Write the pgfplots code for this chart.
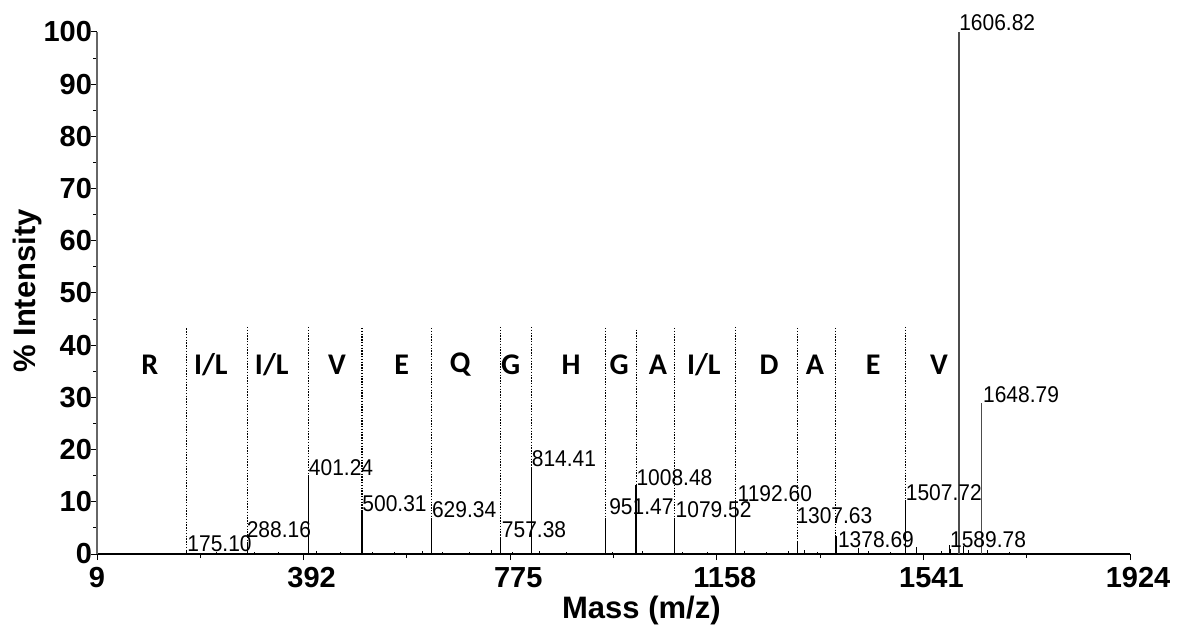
\documentclass[border=0pt]{standalone}
\usepackage{pgfplots}
\pgfplotsset{compat=1.18}
\usepackage{fontspec}
\setmainfont{Liberation Sans}
\newfontfamily\calibri{Carlito}
\newfontfamily\lblfont{Liberation Sans}[FakeStretch=0.92]

\begin{document}
\begin{tikzpicture}
\begin{axis}[
  at={(0,0)}, anchor=south west,
  scale only axis, width=516.5pt, height=261pt,
  xmin=9, xmax=1924, ymin=0, ymax=100,
  clip=false,
  axis x line*=bottom, axis y line*=left,
  x axis line style={-, black, line width=0.6pt},
  y axis line style={-, black!60, line width=0.6pt},
  xtick={392,775,1158,1541,1924},
  extra x ticks={9},
  extra x tick style={xticklabel style={xshift=-4pt}},
  minor xtick={200.5,583.5,966.5,1349.5,1732.5},
  ytick={0,10,...,100},
  minor ytick={5,15,...,95},
  tick align=outside,
  major tick length=3pt, minor tick length=2pt,
  tick style={black, line width=0.5pt},
  /pgf/number format/assume math mode=true,
  /pgf/number format/1000 sep={},
  ticklabel style={font=\bfseries\fontsize{14.5}{16}\selectfont},
  yticklabel style={xshift=4pt},
  xticklabel style={xshift=4pt},
  ylabel={\% Intensity},
  every axis y label/.style={at={(axis description cs:0,0.504)}, xshift=-35pt, rotate=90, anchor=center},
  ylabel style={font=\bfseries\fontsize{15.5}{17}\selectfont},
  xlabel={Mass (m/z)},
  every axis x label/.style={at={(axis description cs:0.527,0)}, yshift=-28pt, anchor=center},
  xlabel style={font=\bfseries\fontsize{15.5}{17}\selectfont},
  unbounded coords=jump,
]
% main spectrum peaks
\addplot[ycomb, black, line width=0.7pt, mark=none] coordinates {
(175.10,0.8) (288.16,2.3) (401.24,15.1) (500.31,8.4) (629.34,6.9)
(757.38,3.3) (814.41,16.7) (951.47,6.5) (1008.48,13.2) (1079.52,6.9)
(1192.60,10.3) (1307.63,2.3) (1378.69,3.5) (1507.72,10.3) (1589.78,1.7)
(1606.82,68) (1648.79,18)
};
\addplot[ycomb, black!70, line width=0.7pt, mark=none] coordinates {
(1606.82,100) (1648.79,29)
};
% small noise peaks
\addplot[ycomb, black, line width=0.45pt, mark=none] coordinates {
(60,0.2) (120,0.2) (230,0.3) (300,0.4) (345,0.3) (415,0.5) (460,0.3) (520,0.4)
(560,0.3) (612,0.5) (650,0.4) (700,0.3) (741,0.7) (780,0.4) (830,0.5) (880,0.3)
(965,0.4) (1020,0.6) (1095,0.4) (1140,0.3) (1210,0.5) (1250,0.3) (1290,0.6)
(1320,0.8) (1345,0.4) (1420,1.2) (1440,0.5) (1480,0.4) (1528,1.3) (1575,0.6)
(1592,0.9) (1615,1.5) (1625,0.8) (1660,0.8) (1700,0.4) (1760,0.2) (1820,0.2)
};
% dotted separators
\addplot[black, line width=0.55pt, dash pattern=on 0.7pt off 0.7pt, mark=none] coordinates {
(175.10,43.2) (175.10,0.8) (175.10,nan)
(288.16,43.5) (288.16,2.3) (288.16,nan)
(401.24,43.5) (401.24,15.1) (401.24,nan)
(500.31,43.3) (500.31,8.4) (500.31,nan)
(629.34,43.3) (629.34,6.9) (629.34,nan)
(757.38,43.5) (757.38,3.3) (757.38,nan)
(814.41,43.5) (814.41,16.7) (814.41,nan)
(951.47,43.3) (951.47,6.5) (951.47,nan)
(1008.48,43.0) (1008.48,13.2) (1008.48,nan)
(1079.52,43.3) (1079.52,6.9) (1079.52,nan)
(1192.60,43.5) (1192.60,10.3) (1192.60,nan)
(1307.63,43.3) (1307.63,2.3) (1307.63,nan)
(1378.69,43.3) (1378.69,3.5) (1378.69,nan)
(1507.72,43.5) (1507.72,10.3)
};
% peak labels
\begin{scope}[every node/.style={font=\lblfont\fontsize{11.4}{12}\selectfont, inner sep=0pt, anchor=base west}]
\node at (axis cs:176,0.4) {175.10};
\node at (axis cs:286,3.1) {288.16};
\node at (axis cs:401.24,15.1) {401.24};
\node at (axis cs:500.31,8.2) {500.31};
\node at (axis cs:629.34,6.9) {629.34};
\node at (axis cs:759,3.1) {757.38};
\node at (axis cs:814.41,16.7) {814.41};
\node at (axis cs:958,7.5) {951.47};
\node at (axis cs:1008.48,13.2) {1008.48};
\node at (axis cs:1081,6.9) {1079.52};
\node at (axis cs:1196,10.0) {1192.60};
\node at (axis cs:1305,5.9) {1307.63};
\node at (axis cs:1382,1.3) {1378.69};
\node at (axis cs:1507.72,10.3) {1507.72};
\node at (axis cs:1589.78,1.3) {1589.78};
\node at (axis cs:1606.82,100.2) {1606.82};
\node at (axis cs:1651,29.1) {1648.79};
\end{scope}
% residue letters
\begin{scope}[every node/.style={font=\calibri\bfseries\fontsize{15}{16}\selectfont, inner sep=0pt, anchor=center}]
\node at (axis cs:107,36.2) {R};
\node at (axis cs:220,36.2) {I/L};
\node at (axis cs:333,36.2) {I/L};
\node at (axis cs:454,36.2) {V};
\node at (axis cs:574,36.2) {E};
\node at (axis cs:682,36.2) {Q};
\node at (axis cs:776,36.2) {G};
\node at (axis cs:888,36.2) {H};
\node at (axis cs:977,36.2) {G};
\node at (axis cs:1049,36.2) {A};
\node at (axis cs:1134,36.2) {I/L};
\node at (axis cs:1255,36.2) {D};
\node at (axis cs:1340,36.2) {A};
\node at (axis cs:1448,36.2) {E};
\node at (axis cs:1570,36.2) {V};
\end{scope}
\end{axis}
\pgfresetboundingbox
\useasboundingbox (-48.5pt,-36pt) rectangle (542pt,277pt);
\end{tikzpicture}
\end{document}
